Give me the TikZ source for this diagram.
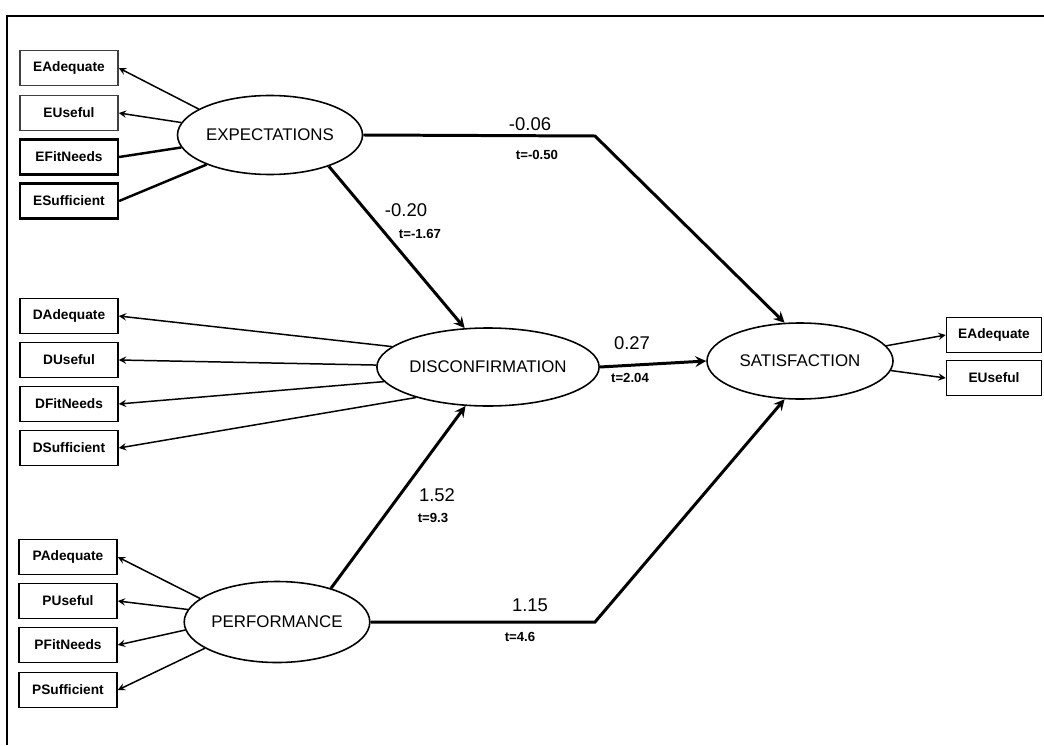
\documentclass[tikz,border=0pt]{standalone}
\usepackage{fontspec}
\setmainfont{Liberation Sans}
\usetikzlibrary{shapes.geometric}

\begin{document}
\begin{tikzpicture}[
    indicator/.style={rectangle, draw, line width=0.9pt, minimum width=1.96cm, minimum height=0.7cm, align=center, font=\fontsize{7.8}{9}\selectfont\bfseries},
    latent/.style={ellipse, draw, line width=0.9pt, minimum width=3.7cm, minimum height=1.58cm, inner sep=0pt, font=\fontsize{9.6}{11}\selectfont},
    coef/.style={font=\fontsize{10.5}{12}\selectfont},
    tval/.style={font=\fontsize{7.5}{9}\selectfont\bfseries},
    path/.style={->, >=stealth, line width=1.7pt},
    load/.style={->, >=stealth, line width=0.85pt},
    heavyload/.style={line width=1.4pt}
]
    \useasboundingbox (0,0) rectangle (20.88,-14.9);

    % Frame
    \draw[line width=0.8pt] (0.14,-14.9) -- (0.14,-0.32) -- (20.88,-0.32);

    % Latent variables
    \node[latent] (exp) at (5.4,-2.7) {EXPECTATIONS};
    \node[latent, minimum width=3.72cm, minimum height=1.56cm] (disc) at (9.76,-7.34) {DISCONFIRMATION};
    \node[latent, minimum height=1.62cm] (perf) at (5.54,-12.44) {PERFORMANCE};
    \node[latent, minimum width=3.72cm, minimum height=1.52cm] (sat) at (16.0,-7.22) {SATISFACTION};

    % Expectation indicators
    \node[indicator, draw=black!75] (eadeq) at (1.38,-1.36) {EAdequate};
    \node[indicator, draw=black!75] (euse) at (1.38,-2.26) {EUseful};
    \node[indicator, line width=1.3pt] (efit) at (1.38,-3.14) {EFitNeeds};
    \node[indicator, line width=1.3pt] (esuff) at (1.38,-4.02) {ESufficient};

    % Disconfirmation indicators
    \node[indicator] (dadeq) at (1.38,-6.32) {DAdequate};
    \node[indicator] (duse) at (1.38,-7.2) {DUseful};
    \node[indicator] (dfit) at (1.38,-8.08) {DFitNeeds};
    \node[indicator] (dsuff) at (1.38,-8.96) {DSufficient};

    % Performance indicators
    \node[indicator] (padeq) at (1.36,-11.14) {PAdequate};
    \node[indicator] (puse) at (1.36,-12.02) {PUseful};
    \node[indicator] (pfit) at (1.36,-12.9) {PFitNeeds};
    \node[indicator] (psuff) at (1.36,-13.8) {PSufficient};

    % Satisfaction indicators
    \node[indicator, minimum width=1.9cm] (sadeq) at (19.88,-6.7) {EAdequate};
    \node[indicator, minimum width=1.9cm] (suse) at (19.88,-7.56) {EUseful};

    % Loadings
    \draw[load] (exp.160) -- (eadeq.east);
    \draw[load] (exp.172) -- (euse.east);
    \draw[heavyload] (exp.188) -- (efit.east);
    \draw[heavyload] (exp.205) -- (esuff.east);

    \draw[load] (disc.168) -- (dadeq.east);
    \draw[load] (disc.179) -- (duse.east);
    \draw[load] (disc.188) -- (dfit.east);
    \draw[load] (disc.203) -- (dsuff.east);

    \draw[load] (perf.163) -- (padeq.east);
    \draw[load] (perf.172) -- (puse.east);
    \draw[load] (perf.185) -- (pfit.east);
    \draw[load] (perf.200) -- (psuff.east);

    \draw[load] (sat.10) -- (sadeq.west);
    \draw[load] (sat.-6) -- (suse.west);

    % Structural paths
    \coordinate (bendE) at (11.9,-2.72);
    \coordinate (bendP) at (11.9,-12.44);
    \draw[path] (exp.east) -- (bendE) -- (sat.112);
    \draw[path] (exp.-28) -- (disc.121);
    \draw[path] (disc.east) -- (sat.west);
    \draw[path] (perf.32) -- (disc.240);
    \draw[path] (perf.east) -- (bendP) -- (sat.248);

    % Coefficients
    \node[coef] (cES) at (10.6,-2.48) {-0.06};
    \node[tval] (tES) at (10.74,-3.1) {t=-0.50};
    \node[coef] (cED) at (8.12,-4.2) {-0.20};
    \node[tval] (tED) at (8.4,-4.68) {t=-1.67};
    \node[coef] (cDS) at (12.64,-6.86) {0.27};
    \node[tval] (tDS) at (12.6,-7.56) {t=2.04};
    \node[coef] (cPD) at (8.74,-9.9) {1.52};
    \node[tval] (tPD) at (8.66,-10.36) {t=9.3};
    \node[coef] (cPS) at (10.6,-12.1) {1.15};
    \node[tval] (tPS) at (10.4,-12.74) {t=4.6};
\end{tikzpicture}
\end{document}
